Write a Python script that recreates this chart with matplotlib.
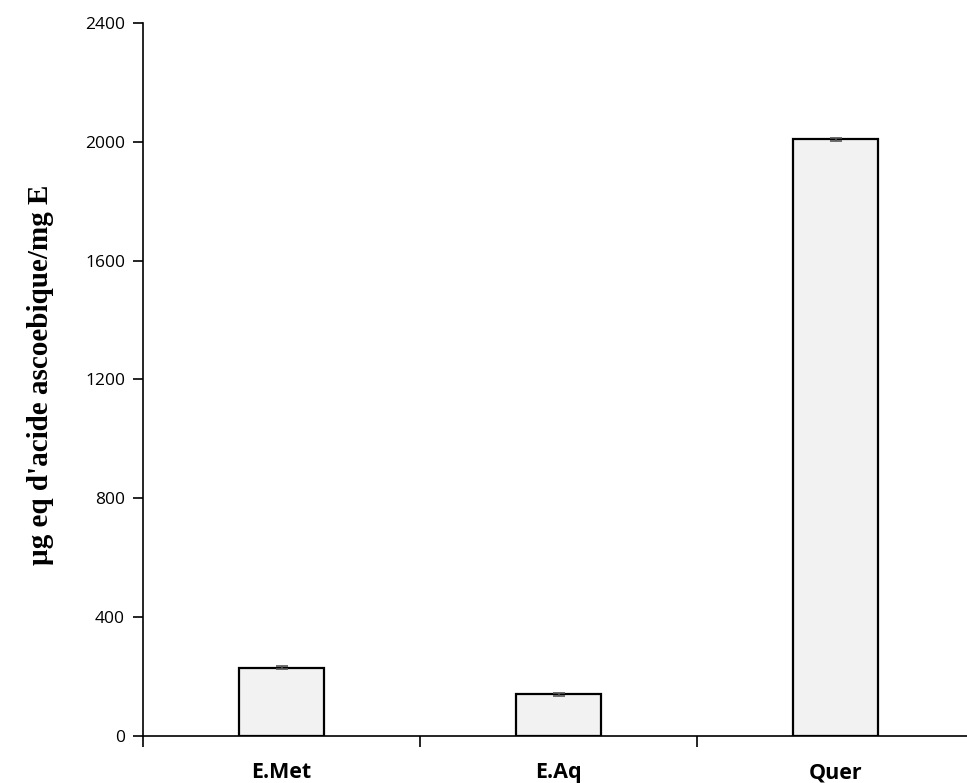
import matplotlib
matplotlib.use('Agg')
import matplotlib.pyplot as plt
import numpy as np

categories = ['E.Met', 'E.Aq', 'Quer']
values = [230, 140, 2008]
errors = [4, 5, 4]
yticks = [0, 400, 800, 1200, 1600, 2000, 2400]

fig = plt.figure(figsize=(9.67, 7.83), dpi=100)
ax = fig.add_axes([143/967, 1 - 736/783, (967 - 143)/967, (736 - 23)/783])

x = np.arange(len(categories))
ax.bar(x, values, width=0.31, color='#f2f2f2', edgecolor='black', linewidth=1.6,
       yerr=errors, error_kw=dict(ecolor='#555555', elinewidth=1.2, capsize=4, capthick=1.2))

ax.set_xlim(-0.5, -0.5 + (967 - 143) / 277)
ax.set_ylim(0, 2400)
ax.set_yticks(yticks)
ax.set_yticklabels([str(t) for t in yticks], fontfamily='Open Sans', fontsize=12.5)
ax.set_xticks(x)
ax.set_xticklabels(categories, fontfamily='Open Sans', fontweight='bold', fontsize=15.5)
ax.tick_params(axis='x', which='major', length=0, pad=19)
ax.set_xticks([-0.5, 0.5, 1.5], minor=True)
ax.tick_params(axis='x', which='minor', length=8, width=1.2, direction='out')
ax.tick_params(axis='y', length=7, width=1.2, direction='out', pad=6)

for s in ['top', 'right']:
    ax.spines[s].set_visible(False)
for s in ['left', 'bottom']:
    ax.spines[s].set_linewidth(1.2)

ax.set_ylabel("µg eq d'acide ascoebique/mg E", fontfamily='Liberation Serif',
              fontweight='bold', fontsize=21)
ax.yaxis.set_label_coords(-0.108, 0.507)

fig.savefig('out.png', dpi=100)
